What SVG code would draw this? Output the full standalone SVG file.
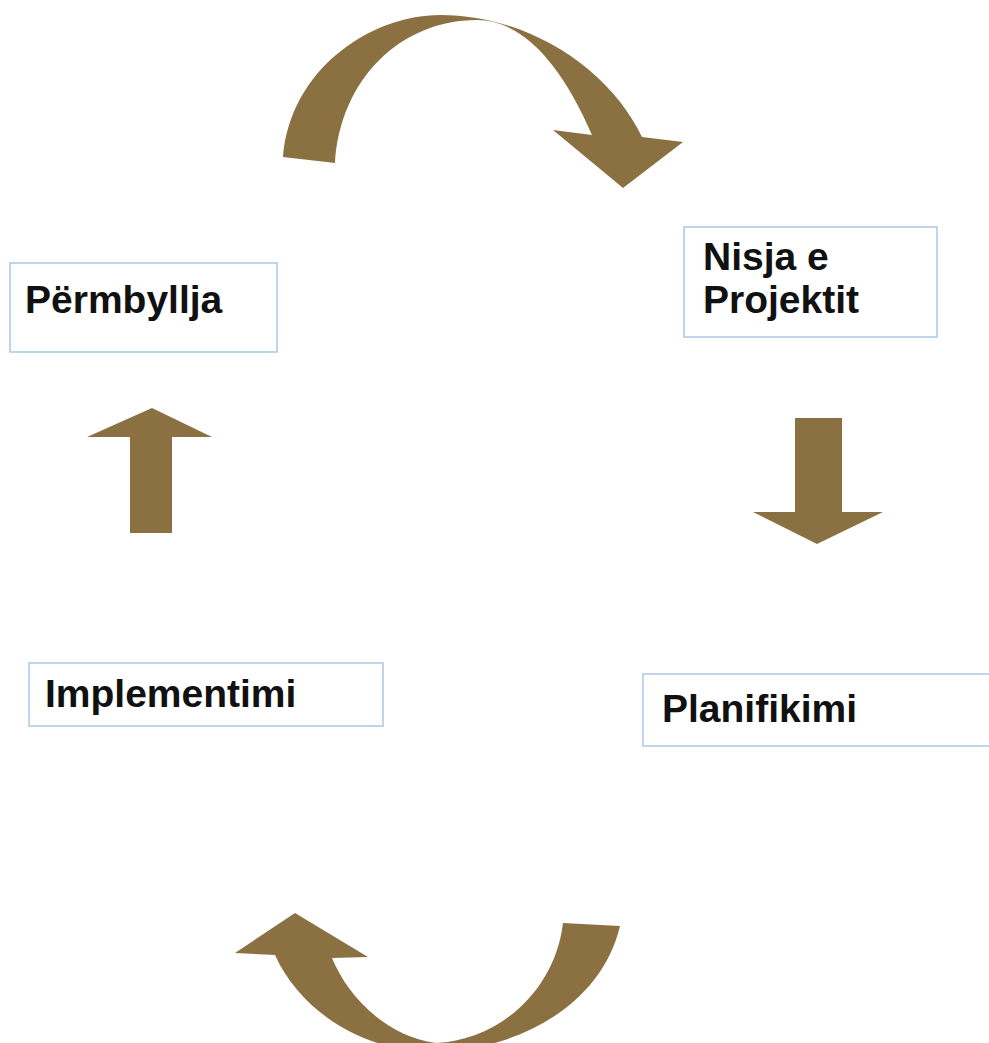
<svg xmlns="http://www.w3.org/2000/svg" width="989" height="1043" viewBox="0 0 989 1043">
<style>
.box{fill:#ffffff;stroke:#aecbe8;stroke-width:1.6}
.lbl{font-family:"Liberation Sans",Arial,sans-serif;font-weight:bold;font-size:39px;fill:#111111}
.arr{fill:#8b7142;stroke:none}
</style>
<rect width="989" height="1043" fill="#ffffff"/>
<g id="connectors">
<path class="arr" d="M283,157 C290,70 370,15 440,15 C530,15 610,70 642,137 L683,142 L623,188 L553,130 L592,135 C560,60 520,20 477,20 C400,20 340,80 335,163 Z"/>
<path class="arr" d="M795,418 L842,418 L842,512 L883,512 L817,544 L753,512 L795,512 Z"/>
<path class="arr" d="M563,923 L620,926 C600,1010 510,1052 430,1052 C360,1050 300,1010 275,955 L235,953 L295,913 L368,957 L332,958 C345,990 380,1035 436,1043 C500,1040 555,990 563,923 Z"/>
<path class="arr" d="M130,533 L130,437 L87,437 L152,408 L212,437 L172,437 L172,533 Z"/>
</g>
<g id="node-permbyllja">
<rect class="box" x="10" y="263" width="267" height="89"/>
<text class="lbl" x="25" y="313">Përmbyllja</text>
</g>
<g id="node-nisja">
<rect class="box" x="684" y="227" width="253" height="110"/>
<text class="lbl" x="703" y="270">Nisja e</text>
<text class="lbl" x="703" y="313">Projektit</text>
</g>
<g id="node-implementimi">
<rect class="box" x="29" y="663" width="354" height="63"/>
<text class="lbl" x="45" y="707">Implementimi</text>
</g>
<g id="node-planifikimi">
<rect class="box" x="643" y="674" width="350" height="72"/>
<text class="lbl" x="662" y="722">Planifikimi</text>
</g>
</svg>
